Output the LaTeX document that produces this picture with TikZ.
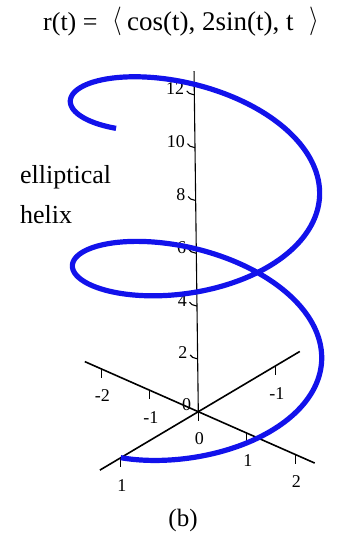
\documentclass[tikz,border=0pt]{standalone}
\usepackage{fontspec}
\setmainfont{Liberation Serif}
\usetikzlibrary{calc}
\begin{document}
\begin{tikzpicture}[x=1pt,y=-1pt,
  axisline/.style={line width=1.6pt,black},
  zaxisline/.style={line width=1.1pt,black},
  tickmark/.style={line width=1.1pt,black},
  ticklabel/.style={font=\fontsize{18}{20}\selectfont,inner sep=0pt},
  bigtext/.style={font=\fontsize{26}{30}\selectfont,inner sep=0pt},
  helixcurve/.style={line width=5.2pt,color={rgb,255:red,18;green,18;blue,235}}]
\useasboundingbox (0,0) rectangle (341,535);
% origin and unit vectors (pixels)
\coordinate (O) at (198.3,411.7);
\def\xux{-77.5}\def\xuy{46}
\def\yux{48.5}\def\yuy{21.4}
\def\zux{-0.33}\def\zuy{-26.4}
% axes
\coordinate (xa) at ($(O)+(1.27*\xux,1.27*\xuy)$);
\coordinate (xb) at ($(O)+(-1.31*\xux,-1.31*\xuy)$);
\coordinate (ya) at ($(O)+(-2.34*\yux,-2.34*\yuy)$);
\coordinate (yb) at ($(O)+(2.4*\yux,2.4*\yuy)$);
\coordinate (zt) at ($(O)+(12.9*\zux,12.9*\zuy)$);
\draw[axisline] (xa) -- (xb);
\draw[axisline] (ya) -- (yb);
\draw[zaxisline] (O) -- (zt);
% y-axis ticks
\foreach \k/\lab in {-2/-2,-1/-1,0/0,1/1,2/2}{
  \coordinate (yt\k) at ($(O)+(\k*\yux,\k*\yuy)$);
  \draw[tickmark] (yt\k) -- ++(0,9);
  \node[ticklabel] (yl\k) at ($(yt\k)+(1,27)$) {\lab};
}
% x-axis ticks
\foreach \k/\lab in {1/1,-1/-1}{
  \coordinate (xt\k) at ($(O)+(\k*\xux,\k*\xuy)$);
  \draw[tickmark] (xt\k) -- ++(0,9);
  \node[ticklabel] (xl\k) at ($(xt\k)+(1,28)$) {\lab};
}
% z-axis ticks
\foreach \k in {2,4,6,8,10,12}{
  \coordinate (zk\k) at ($(O)+(\k*\zux,\k*\zuy)$);
  \draw[tickmark] (zk\k) -- ++(-5,-1.5) -- ++(-2.5,-2.5);
  \node[ticklabel,anchor=east] (zl\k) at ($(zk\k)+(-10,-6)$) {\k};
}
\node[ticklabel,anchor=east] (zl0) at ($(O)+(-7,-7)$) {0};
% helix
\draw[helixcurve] plot[domain=0:12.566,samples=400,smooth]
  ({198.3 - 77.5*cos(\x r) + 97*sin(\x r) - 0.33*\x},
   {411.7 + 46*cos(\x r) + 42.8*sin(\x r) - 26.2*\x});
% title
\node[bigtext,anchor=base west] (ta) at (43,31) {r(t) =};
\node[bigtext] (tb) at (117,21) {\scalebox{1}[1.15]{$\big\langle$}};
\node[bigtext,anchor=base west,font=\fontsize{27}{30}\selectfont] (tc) at (127,31) {cos(t), 2sin(t), t};
\node[bigtext] (td) at (314,21) {\scalebox{1}[1.15]{$\big\rangle$}};
% side label
\node[bigtext,anchor=base west] (la) at (20,183) {elliptical};
\node[bigtext,anchor=base west] (lb) at (20,223) {helix};
% caption
\node[font=\fontsize{25}{28}\selectfont,inner sep=0pt,anchor=base] (cap) at (183,526) {(b)};
\end{tikzpicture}
\end{document}
